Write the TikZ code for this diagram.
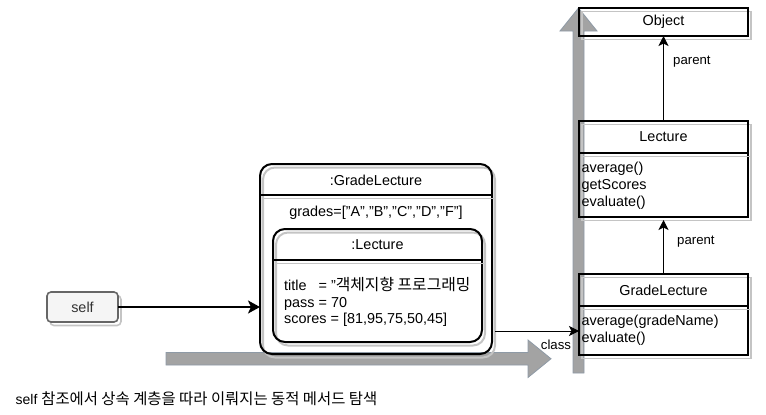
\documentclass[tikz,border=0pt]{standalone}
\usepackage{fontspec}
\setmainfont{Liberation Sans}
\newfontfamily\kr[Scale=1.1]{Noto Sans CJK KR}
\usetikzlibrary{arrows.meta,calc}
\definecolor{shc}{HTML}{C4C4C4}
\definecolor{garrow}{HTML}{A3A3A3}
\definecolor{garrowb}{HTML}{8E9AA6}
\definecolor{selffill}{HTML}{F5F5F5}
\definecolor{selfdraw}{HTML}{666666}
\definecolor{selftext}{HTML}{333333}
\tikzset{
  shd/.style={preaction={draw=shc, transform canvas={shift={(3pt,-3.5pt)}}}},
  fbig/.style={font=\fontsize{14.4}{16.8}\selectfont},
  fsmall/.style={font=\fontsize{13.2}{15}\selectfont},
  instbox/.style={draw, line width=2pt, rounded corners=12pt, outer sep=0pt, inner sep=0pt, shd},
  classbox/.style={draw, line width=1.2pt, outer sep=0pt, inner sep=0pt, shd},
  bigarrow/.style={fill=garrow, draw=garrowb, line width=0.8pt},
  conn/.style={line width=1pt, -{Stealth[length=10pt,width=10pt,inset=2.5pt]}},
  txt/.style={fbig, inner sep=0pt},
}
\begin{document}
\begin{tikzpicture}[x=1pt,y=-1pt]
\useasboundingbox (0,0) rectangle (766,415);
% big gray arrows
\path[bigarrow] (166,352.5) -- (528,352.5) -- (528,340) -- (551,358.75) -- (528,377.5) -- (528,365) -- (166,365) -- cycle;
\path[bigarrow] (573,373) -- (573,31) -- (560,31) -- (578.5,8) -- (597,31) -- (584,31) -- (584,373) -- cycle;

% self
\node[draw=selfdraw, fill=selffill, line width=1.6pt, rounded corners=4pt, minimum width=71pt, minimum height=30pt, outer sep=0pt, inner sep=0pt, text=selftext, fbig, shd] (self) at (82.5,307) {self};

% instance boxes
\node[instbox, minimum width=232pt, minimum height=190pt] (gl) at (376,259) {};
\coordinate (h1) at (0,195);
\draw[line width=2pt, shd] (gl.west |- h1) -- (gl.east |- h1);
\node[txt] (gltitle) at (376,180) {:GradeLecture};
\node[txt] (grades) at (376,213) {grades=["A","B","C","D","F"]};

\node[instbox, minimum width=209pt, minimum height=113pt] (lec) at (377.5,285.5) {};
\coordinate (h2) at (0,260);
\draw[line width=2pt, shd] (lec.west |- h2) -- (lec.east |- h2);
\node[txt] (lectitle) at (377.5,245) {:Lecture};
\node[txt, align=left, anchor=west] (attrs) at (284,302) {title\ \ \ = "\kr{객체지향 프로그래밍}\\pass = 70\\scores = [81,95,75,50,45]};

% class boxes
\node[classbox, minimum width=169pt, minimum height=28pt] (obj) at (663.5,22) {};
\node[txt] (objt) at (663.5,22) {Object};

\node[classbox, minimum width=169pt, minimum height=96pt] (lc) at (663.5,169) {};
\coordinate (h3) at (0,153);
\draw[line width=1.2pt, shd] (lc.west |- h3) -- (lc.east |- h3);
\node[txt] (lct) at (663.5,137) {Lecture};
\node[txt, align=left, anchor=west] (lcm) at (581.5,185.5) {average()\\getScores\\evaluate()};

\node[classbox, minimum width=169pt, minimum height=81pt] (glc) at (663.5,314.5) {};
\coordinate (h4) at (0,306);
\draw[line width=1.2pt, shd] (glc.west |- h4) -- (glc.east |- h4);
\node[txt] (glct) at (663.5,290) {GradeLecture};
\node[txt, align=left, anchor=west] (glcm) at (581.5,330.5) {average(gradeName)\\evaluate()};

% connectors
\draw[line width=2pt, -{Stealth[length=12pt,width=13pt,inset=3pt]}] (self.east) -- (gl.west |- self.east);
\coordinate (cy) at (0,331);
\draw[conn] ($(gl.east |- cy)+(3,0)$) -- (glc.west |- cy);
\node[fsmall, inner sep=0pt] (classlbl) at (556,345) {class};
\draw[conn] (lc.north) -- (obj.south);
\node[fsmall, inner sep=0pt, anchor=west] (p1) at (673,62) {parent};
\draw[conn, shorten >=3pt] (glc.north) -- (lc.south);
\node[fsmall, inner sep=0pt, anchor=west] (p2) at (677,242) {parent};

% caption
\node[font=\fontsize{14}{16}\selectfont, inner sep=0pt, anchor=west] (cap) at (15.5,399) {self \kr{참조에서 상속 계층을 따라 이뤄지는 동적 메서드 탐색}};
\end{tikzpicture}
\end{document}
